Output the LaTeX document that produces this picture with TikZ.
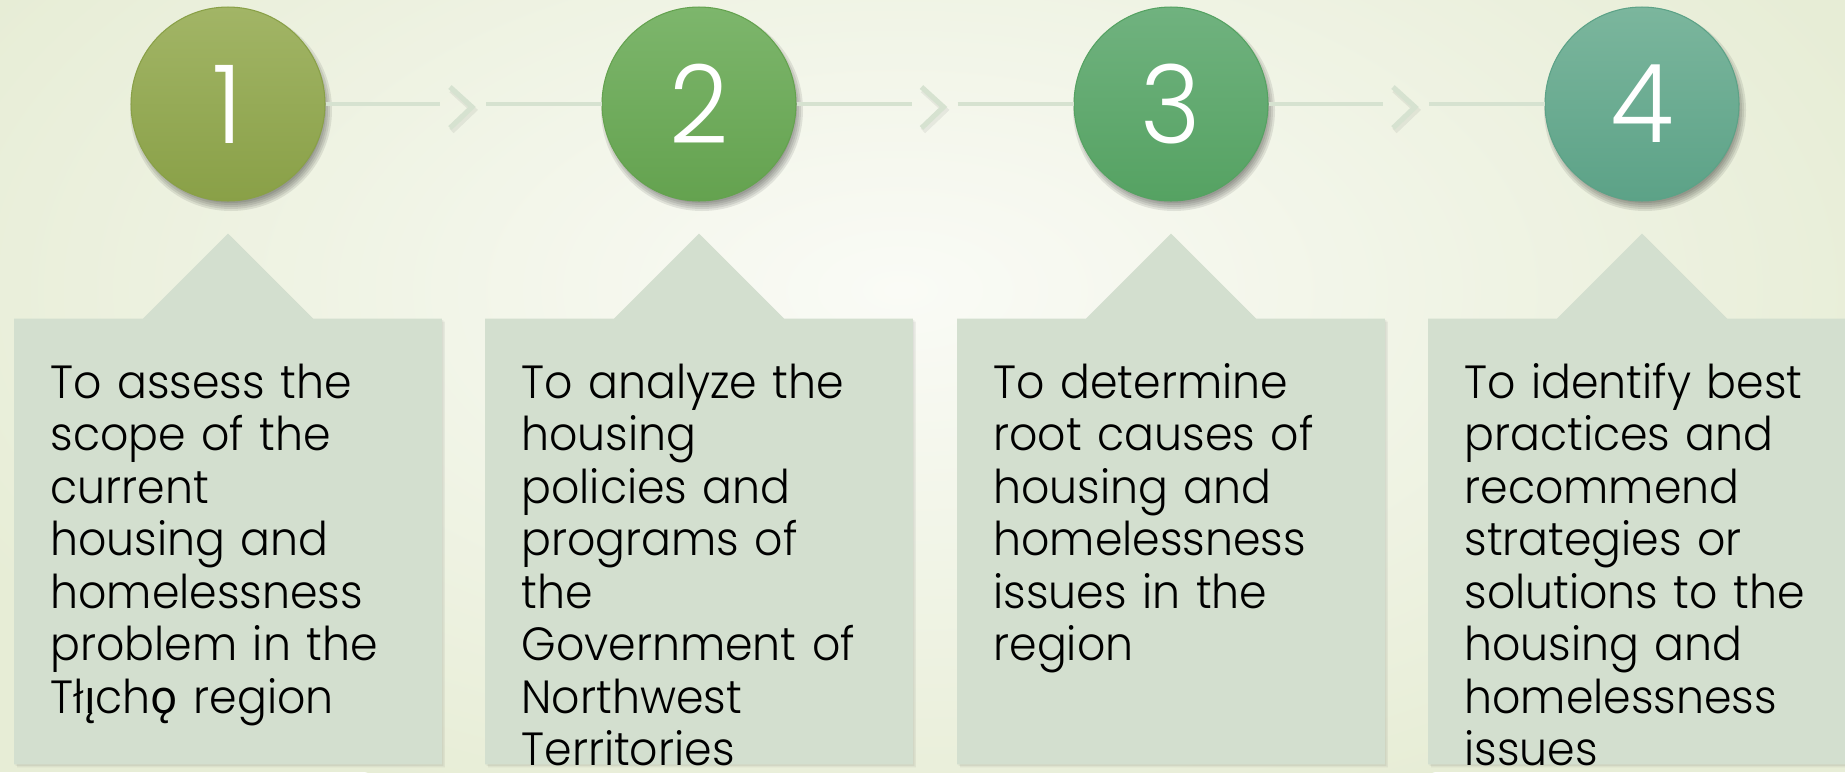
\documentclass[tikz,border=0pt]{standalone}
\usepackage{fontspec}
\setmainfont{Poppins}[FakeStretch=0.95, UprightFont={* Light}]
\newfontfamily\ogfont{Noto Sans}[FakeStretch=0.97]
\usetikzlibrary{calc}
\definecolor{bgout}{HTML}{E7EDD6}
\definecolor{bgin}{HTML}{FAFBF6}
\definecolor{boxfill}{HTML}{D3DFCF}
\definecolor{conn}{HTML}{D6E2D0}
\definecolor{cAtop}{HTML}{A2B566}
\definecolor{cAbot}{HTML}{89A047}
\definecolor{cBtop}{HTML}{7DB66C}
\definecolor{cBbot}{HTML}{64A24F}
\definecolor{cCtop}{HTML}{70B27F}
\definecolor{cCbot}{HTML}{55A262}
\definecolor{cDtop}{HTML}{7BB69D}
\definecolor{cDbot}{HTML}{5CA287}
\newcommand{\tabpath}[3]{($(#1.south west)+(#2,#3)$) -- ($(#1.north west)+(#2,#3)$)
  -- ($(#1.north)+(-85+#2,#3)$) -- ($(#1.north)+(#2,-85+#3)$) -- ($(#1.north)+(85+#2,#3)$)
  -- ($(#1.north east)+(#2,#3)$) -- ($(#1.south east)+(#2,#3)$) -- cycle}
\begin{document}
\begin{tikzpicture}[x=0.02cm,y=-0.02cm,
  numcirc/.style={circle, minimum size=3.88cm, inner sep=0pt, text=white,
    font=\fontsize{62pt}{62pt}\selectfont, line width=0.6pt},
  holder/.style={rectangle, minimum width=8.54cm, minimum height=8.9cm, inner sep=0pt},
  shadowfill/.style={fill=black, opacity=0.085},
  boxshadow/.style={fill=black, opacity=0.05},
  objtext/.style={anchor=north west, inner sep=0pt, text width=8cm, align=left,
    font=\fontsize{26.5pt}{29.9pt}\selectfont, text=black},
  connline/.style={draw=conn, line width=2.3pt},
  chev/.style={draw=conn, line width=2.9pt},
  chevshadow/.style={draw=black, opacity=0.06, line width=3.5pt}
]
\useasboundingbox (0,0) rectangle (1845,772);
\clip (0,0) rectangle (1845,772);
\fill[bgout] (0,0) rectangle (1845,772);
\shade[inner color=bgin, outer color=bgout] (900,290) ellipse (1050 and 560);

% circle shadows
\foreach \x in {228,699,1171,1642}{
  \foreach \r in {101,99,97,95,93}{
    \fill[shadowfill] (\x+3,104+6) circle (\r);
  }
}

\node[numcirc, top color=cAtop, bottom color=cAbot, draw=cAbot] (c1) at (228,104) {1};
\node[numcirc, top color=cBtop, bottom color=cBbot, draw=cBbot] (c2) at (699,104) {2};
\node[numcirc, top color=cCtop, bottom color=cCbot, draw=cCbot] (c3) at (1171,104) {3};
\node[numcirc, top color=cDtop, bottom color=cDbot, draw=cDbot] (c4) at (1642,104) {4};

% connectors
\foreach \a/\b in {1/2,2/3,3/4}{
  \coordinate (m\a\b) at ($(c\a.east)!0.5!(c\b.west)$);
  \draw[connline] (c\a.east) -- ($(m\a\b)+(-23.5,0)$);
  \draw[chevshadow] ($(m\a\b)+(-12,-14)$) -- ($(m\a\b)+(10,6)$) -- ($(m\a\b)+(-12,27)$);
  \draw[chev] ($(m\a\b)+(-13.5,-17)$) -- ($(m\a\b)+(8.5,3)$) -- ($(m\a\b)+(-13.5,24)$);
  \draw[connline] ($(m\a\b)+(22.5,0)$) -- (c\b.west);
}

% boxes
\foreach \i/\x in {1/228,2/699,3/1171,4/1642}{
  \node[holder] (b\i) at (\x,541.5) {};
  \fill[boxshadow] \tabpath{b\i}{3}{3};
  \fill[boxshadow] \tabpath{b\i}{1.5}{1.5};
  \fill[boxfill] \tabpath{b\i}{0}{0};
}

\node[objtext] (t1) at ($(b1.north west)+(36,37)$) {\rule{0pt}{24pt}To assess the\\scope of the\\current\\housing and\\homelessness\\problem in the\\Tł{\ogfont ı̨}ch{\ogfont ǫ} region};
\node[objtext] (t2) at ($(b2.north west)+(36,37)$) {\rule{0pt}{24pt}To analyze the\\housing\\policies and\\programs of\\the\\Government of\\Northwest\\Territories};
\node[objtext] (t3) at ($(b3.north west)+(36,37)$) {\rule{0pt}{24pt}To determine\\root causes of\\housing and\\homelessness\\issues in the\\region};
\node[objtext] (t4) at ($(b4.north west)+(36,37)$) {\rule{0pt}{24pt}To identify best\\practices and\\recommend\\strategies or\\solutions to the\\housing and\\homelessness\\issues};
\end{tikzpicture}
\end{document}
